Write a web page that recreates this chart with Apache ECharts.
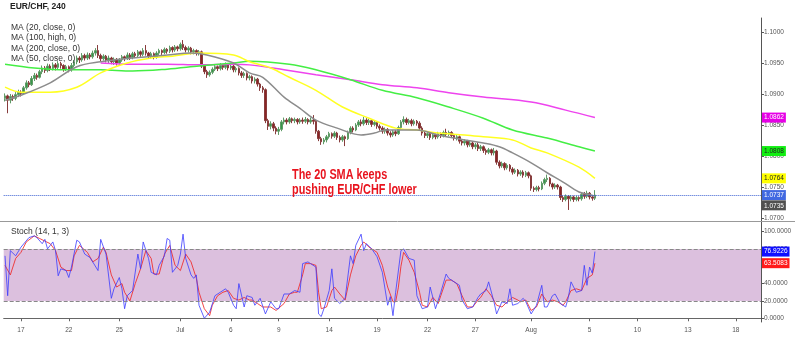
<!DOCTYPE html>
<html><head><meta charset="utf-8">
<script src="https://cdn.jsdelivr.net/npm/echarts@6/dist/echarts.min.js"></script>
<style>html,body{margin:0;padding:0;background:#fff}#c{width:800px;height:339px}</style>
</head><body><div id="c"></div>
<script>
// ---- data ----
const tickIndex = [6, 24, 43, 66, 85, 103, 122, 140, 159, 177, 198, 220, 238, 257, 275];
const tickLabels = ['17', '22', '25', 'Jul', '6', '9', '14', '19', '22', '27', 'Aug', '5', '10', '13', '18'];
const futureSlots = 62;
const priceTicks = [1.07, 1.075, 1.08, 1.085, 1.09, 1.095, 1.10];
const stochTicks = [0, 20, 40, 60, 80, 100];
// [open, close, low, high]
const ohlc = [
[1.0893,1.0897,1.0888,1.0901],[1.0897,1.0890,1.0869,1.0899],[1.0890,1.0896,1.0885,1.0900],[1.0896,1.0893,1.0889,1.0899],
[1.0893,1.0899,1.0890,1.0903],[1.0899,1.0903,1.0895,1.0907],[1.0903,1.0901,1.0896,1.0906],[1.0901,1.0910,1.0899,1.0913],
[1.0910,1.0918,1.0907,1.0922],[1.0918,1.0915,1.0911,1.0921],[1.0915,1.0925,1.0913,1.0929],[1.0925,1.0930,1.0921,1.0934],
[1.0930,1.0927,1.0923,1.0933],[1.0927,1.0936,1.0925,1.0939],[1.0936,1.0942,1.0932,1.0946],[1.0942,1.0938,1.0934,1.0945],
[1.0938,1.0945,1.0935,1.0949],[1.0945,1.0941,1.0937,1.0948],[1.0941,1.0947,1.0938,1.0951],[1.0947,1.0943,1.0938,1.0950],
[1.0943,1.0949,1.0940,1.0953],[1.0949,1.0946,1.0941,1.0952],[1.0946,1.0940,1.0936,1.0948],[1.0940,1.0944,1.0937,1.0947],
[1.0944,1.0939,1.0935,1.0946],[1.0939,1.0946,1.0936,1.0950],[1.0946,1.0952,1.0943,1.0955],[1.0952,1.0958,1.0948,1.0962],
[1.0958,1.0955,1.0950,1.0961],[1.0955,1.0962,1.0952,1.0966],[1.0962,1.0958,1.0954,1.0965],[1.0958,1.0963,1.0955,1.0967],
[1.0963,1.0960,1.0956,1.0966],[1.0960,1.0966,1.0957,1.0970],[1.0966,1.0970,1.0962,1.0974],[1.0970,1.0962,1.0958,1.0979],
[1.0962,1.0957,1.0953,1.0965],[1.0957,1.0961,1.0954,1.0964],[1.0961,1.0955,1.0951,1.0963],[1.0955,1.0958,1.0950,1.0962],
[1.0958,1.0952,1.0948,1.0960],[1.0952,1.0956,1.0947,1.0959],[1.0956,1.0950,1.0946,1.0958],[1.0950,1.0955,1.0947,1.0958],
[1.0955,1.0960,1.0952,1.0963],[1.0960,1.0957,1.0953,1.0962],[1.0957,1.0963,1.0955,1.0967],[1.0963,1.0959,1.0955,1.0966],
[1.0959,1.0965,1.0956,1.0968],[1.0965,1.0962,1.0958,1.0968],[1.0962,1.0968,1.0959,1.0971],[1.0968,1.0964,1.0960,1.0970],
[1.0964,1.0970,1.0961,1.0974],[1.0970,1.0966,1.0962,1.0979],[1.0966,1.0961,1.0957,1.0968],[1.0961,1.0965,1.0958,1.0968],
[1.0965,1.0960,1.0956,1.0967],[1.0960,1.0966,1.0957,1.0969],[1.0966,1.0970,1.0963,1.0973],[1.0970,1.0967,1.0963,1.0972],
[1.0967,1.0972,1.0964,1.0975],[1.0972,1.0969,1.0965,1.0974],[1.0969,1.0975,1.0966,1.0978],[1.0975,1.0971,1.0967,1.0977],
[1.0971,1.0976,1.0968,1.0979],[1.0976,1.0973,1.0969,1.0978],[1.0973,1.0980,1.0970,1.0983],[1.0980,1.0975,1.0971,1.0987],
[1.0975,1.0971,1.0967,1.0978],[1.0971,1.0974,1.0967,1.0977],[1.0974,1.0968,1.0964,1.0976],[1.0968,1.0970,1.0964,1.0973],
[1.0970,1.0966,1.0962,1.0972],[1.0966,1.0968,1.0962,1.0971],[1.0968,1.0945,1.0942,1.0970],[1.0945,1.0936,1.0932,1.0948],
[1.0936,1.0931,1.0926,1.0939],[1.0931,1.0935,1.0928,1.0938],[1.0935,1.0940,1.0932,1.0943],[1.0940,1.0944,1.0937,1.0947],
[1.0944,1.0941,1.0937,1.0946],[1.0941,1.0946,1.0938,1.0950],[1.0946,1.0943,1.0939,1.0948],[1.0943,1.0947,1.0940,1.0951],
[1.0947,1.0942,1.0938,1.0949],[1.0942,1.0945,1.0939,1.0948],[1.0945,1.0939,1.0935,1.0947],[1.0939,1.0941,1.0935,1.0944],
[1.0941,1.0934,1.0930,1.0943],[1.0934,1.0930,1.0926,1.0937],[1.0930,1.0933,1.0926,1.0936],[1.0933,1.0926,1.0922,1.0935],
[1.0926,1.0928,1.0922,1.0931],[1.0928,1.0921,1.0917,1.0930],[1.0921,1.0924,1.0917,1.0927],[1.0924,1.0916,1.0912,1.0926],
[1.0916,1.0910,1.0905,1.0918],[1.0910,1.0907,1.0902,1.0913],[1.0907,1.0857,1.0853,1.0909],[1.0857,1.0848,1.0842,1.0860],
[1.0848,1.0852,1.0843,1.0856],[1.0852,1.0845,1.0840,1.0855],[1.0845,1.0840,1.0835,1.0848],[1.0840,1.0843,1.0834,1.0847],
[1.0843,1.0855,1.0840,1.0858],[1.0855,1.0858,1.0851,1.0862],[1.0858,1.0855,1.0851,1.0861],[1.0855,1.0860,1.0852,1.0863],
[1.0860,1.0857,1.0853,1.0862],[1.0857,1.0859,1.0853,1.0862],[1.0859,1.0855,1.0851,1.0861],[1.0855,1.0858,1.0852,1.0861],
[1.0858,1.0856,1.0852,1.0862],[1.0856,1.0859,1.0853,1.0863],[1.0859,1.0855,1.0851,1.0861],[1.0855,1.0858,1.0852,1.0862],
[1.0858,1.0856,1.0851,1.0866],[1.0856,1.0840,1.0836,1.0858],[1.0840,1.0828,1.0824,1.0842],[1.0828,1.0823,1.0818,1.0831],
[1.0823,1.0826,1.0819,1.0829],[1.0826,1.0831,1.0822,1.0834],[1.0831,1.0836,1.0828,1.0839],[1.0836,1.0832,1.0828,1.0838],
[1.0832,1.0837,1.0829,1.0840],[1.0837,1.0830,1.0826,1.0839],[1.0830,1.0826,1.0822,1.0833],[1.0826,1.0831,1.0823,1.0834],
[1.0831,1.0828,1.0816,1.0833],[1.0828,1.0838,1.0826,1.0841],[1.0838,1.0845,1.0835,1.0848],[1.0845,1.0842,1.0838,1.0848],
[1.0842,1.0850,1.0840,1.0853],[1.0850,1.0855,1.0847,1.0858],[1.0855,1.0852,1.0848,1.0859],[1.0852,1.0858,1.0849,1.0863],
[1.0858,1.0854,1.0850,1.0861],[1.0854,1.0857,1.0850,1.0860],[1.0857,1.0851,1.0847,1.0859],[1.0851,1.0854,1.0848,1.0857],
[1.0854,1.0848,1.0844,1.0856],[1.0848,1.0845,1.0841,1.0851],[1.0845,1.0840,1.0836,1.0848],[1.0840,1.0843,1.0836,1.0846],
[1.0843,1.0837,1.0833,1.0845],[1.0837,1.0834,1.0830,1.0840],[1.0834,1.0839,1.0831,1.0842],[1.0839,1.0836,1.0832,1.0842],
[1.0836,1.0846,1.0834,1.0849],[1.0846,1.0855,1.0843,1.0858],[1.0855,1.0859,1.0851,1.0864],[1.0859,1.0854,1.0850,1.0862],
[1.0854,1.0857,1.0851,1.0860],[1.0857,1.0852,1.0848,1.0860],[1.0852,1.0856,1.0849,1.0859],[1.0856,1.0853,1.0849,1.0858],
[1.0853,1.0845,1.0841,1.0856],[1.0845,1.0837,1.0833,1.0848],[1.0837,1.0833,1.0829,1.0840],[1.0833,1.0836,1.0829,1.0839],
[1.0836,1.0830,1.0826,1.0838],[1.0830,1.0834,1.0827,1.0837],[1.0834,1.0831,1.0827,1.0836],[1.0831,1.0836,1.0828,1.0839],
[1.0836,1.0833,1.0829,1.0838],[1.0833,1.0838,1.0830,1.0841],[1.0838,1.0835,1.0831,1.0844],[1.0835,1.0838,1.0832,1.0841],
[1.0838,1.0833,1.0829,1.0840],[1.0833,1.0829,1.0825,1.0836],[1.0829,1.0831,1.0825,1.0834],[1.0831,1.0824,1.0820,1.0833],
[1.0824,1.0821,1.0817,1.0827],[1.0821,1.0824,1.0817,1.0827],[1.0824,1.0818,1.0814,1.0826],[1.0818,1.0821,1.0815,1.0825],
[1.0821,1.0815,1.0811,1.0823],[1.0815,1.0818,1.0811,1.0821],[1.0818,1.0812,1.0808,1.0822],[1.0812,1.0815,1.0808,1.0818],
[1.0815,1.0809,1.0805,1.0817],[1.0809,1.0806,1.0802,1.0812],[1.0806,1.0810,1.0803,1.0813],[1.0810,1.0805,1.0801,1.0812],
[1.0805,1.0808,1.0801,1.0813],[1.0808,1.0790,1.0786,1.0810],[1.0790,1.0784,1.0780,1.0793],[1.0784,1.0788,1.0781,1.0791],
[1.0788,1.0781,1.0777,1.0790],[1.0781,1.0785,1.0778,1.0788],[1.0785,1.0779,1.0775,1.0787],[1.0779,1.0774,1.0770,1.0782],
[1.0774,1.0777,1.0771,1.0780],[1.0777,1.0771,1.0767,1.0779],[1.0771,1.0774,1.0768,1.0777],[1.0774,1.0769,1.0765,1.0777],
[1.0769,1.0773,1.0766,1.0776],[1.0773,1.0768,1.0764,1.0775],[1.0768,1.0748,1.0744,1.0770],[1.0748,1.0746,1.0742,1.0751],
[1.0746,1.0749,1.0743,1.0752],[1.0749,1.0747,1.0743,1.0752],[1.0747,1.0756,1.0745,1.0759],[1.0756,1.0762,1.0753,1.0765],
[1.0762,1.0764,1.0758,1.0770],[1.0764,1.0755,1.0751,1.0766],[1.0755,1.0750,1.0746,1.0757],[1.0750,1.0753,1.0747,1.0756],
[1.0753,1.0750,1.0746,1.0755],[1.0750,1.0733,1.0729,1.0752],[1.0733,1.0730,1.0726,1.0736],[1.0730,1.0735,1.0727,1.0738],
[1.0735,1.0731,1.0713,1.0737],[1.0731,1.0734,1.0727,1.0737],[1.0734,1.0730,1.0726,1.0736],[1.0730,1.0733,1.0727,1.0736],
[1.0733,1.0731,1.0727,1.0735],[1.0731,1.0738,1.0728,1.0741],[1.0738,1.0735,1.0731,1.0742],[1.0735,1.0740,1.0732,1.0744],
[1.0740,1.0734,1.0730,1.0742],[1.0734,1.0732,1.0728,1.0737],[1.0732,1.0737,1.0729,1.0745]
];
const ma20 = [[0,1.0890],[6,1.0898],[17,1.0918],[27,1.0944],[36,1.0952],[48,1.0958],[61,1.0963],[70,1.0966],[76,1.0963],[86,1.0950],[92,1.0934],[97,1.0927],[105,1.0895],[111,1.0877],[117,1.0858],[125,1.0845],[134,1.0834],[139,1.0837],[143,1.0842],[148,1.0842],[155,1.0842],[163,1.0834],[173,1.0826],[180,1.0821],[186,1.0815],[191,1.0805],[198,1.0789],[204,1.0773],[210,1.0758],[216,1.0742],[220,1.0738],[222,1.0735]];
const ma50 = [[0,1.0911],[6,1.0903],[17,1.0903],[27,1.0911],[36,1.0934],[46,1.0950],[55,1.0958],[63,1.0961],[73,1.0966],[86,1.0963],[92,1.0952],[100,1.0942],[107,1.0927],[117,1.0906],[127,1.0879],[137,1.0861],[147,1.0845],[155,1.0842],[163,1.0837],[173,1.0834],[180,1.0831],[191,1.0826],[198,1.0813],[204,1.0805],[216,1.0782],[222,1.0764]];
const ma100 = [[0,1.0948],[11,1.0942],[23,1.0939],[36,1.0939],[48,1.0937],[61,1.0940],[73,1.0945],[86,1.0950],[92,1.0953],[107,1.0948],[117,1.0939],[130,1.0923],[142,1.0906],[155,1.0894],[167,1.0879],[180,1.0861],[191,1.0842],[204,1.0829],[216,1.0815],[222,1.0808]];
const ma200 = [[36,1.0950],[48,1.0948],[61,1.0948],[73,1.0947],[86,1.0948],[92,1.0947],[105,1.0939],[117,1.0931],[130,1.0923],[142,1.0915],[155,1.0910],[167,1.0902],[180,1.0895],[198,1.0887],[211,1.0874],[222,1.0862]];
const stochK = [[0,72],[1,26],[2,78],[4,72],[6,82],[9,93],[11,95],[12,93],[14,86],[15,91],[16,80],[18,88],[19,78],[20,49],[21,57],[23,55],[24,47],[25,59],[27,90],[28,88],[30,74],[32,70],[35,55],[36,91],[38,74],[40,23],[41,34],[43,47],[44,34],[45,11],[46,26],[48,32],[50,74],[51,57],[52,88],[54,69],[55,53],[57,50],[58,61],[60,72],[61,92],[62,90],[63,53],[65,61],[66,74],[67,97],[68,69],[70,50],[71,46],[72,50],[73,15],[75,0],[77,7],[79,26],[81,30],[83,34],[84,30],[86,15],[87,11],[88,40],[90,13],[91,26],[93,24],[94,15],[96,23],[98,5],[100,19],[102,11],[103,11],[105,28],[107,28],[109,32],[111,30],[112,63],[114,65],[115,63],[117,59],[118,5],[119,2],[120,11],[122,32],[123,57],[124,23],[126,17],[128,23],[130,72],[131,63],[132,84],[134,97],[135,78],[136,86],[138,80],[140,71],[142,53],[144,15],[145,25],[146,3],[147,30],[149,78],[150,80],[152,69],[154,67],[155,26],[157,11],[159,13],[160,36],[161,24],[162,11],[164,30],[166,51],[167,46],[169,42],[171,38],[172,21],[174,11],[176,13],[178,24],[179,28],[181,32],[182,42],[184,19],[185,5],[187,19],[189,17],[190,34],[191,15],[193,17],[195,23],[196,19],[198,5],[200,15],[202,38],[203,13],[204,13],[206,26],[207,28],[209,17],[211,13],[212,24],[213,42],[215,30],[217,32],[218,61],[219,38],[220,59],[221,52],[222,76.9226]];
const stochD = [[0,61],[2,50],[4,69],[6,76],[8,88],[11,95],[13,92],[15,89],[17,86],[19,78],[21,59],[23,55],[25,55],[26,72],[28,84],[31,76],[33,65],[35,69],[37,82],[38,76],[40,50],[42,36],[44,40],[45,30],[47,20],[49,40],[51,57],[53,78],[55,69],[56,51],[58,51],[60,74],[62,84],[64,61],[66,55],[68,74],[70,65],[72,46],[73,30],[75,11],[77,3],[78,15],[80,26],[82,30],[84,32],[86,23],[88,21],[90,24],[92,21],[93,21],[95,17],[97,13],[100,13],[102,9],[105,17],[107,28],[109,30],[110,30],[112,50],[113,63],[115,63],[117,61],[118,30],[119,11],[121,13],[123,32],[124,36],[126,28],[128,21],[130,50],[132,72],[134,84],[135,88],[137,82],[140,76],[142,61],[144,36],[146,19],[147,19],[148,35],[149,60],[150,76],[152,67],[154,53],[156,30],[157,15],[159,13],[161,24],[163,17],[164,26],[166,44],[168,44],[170,40],[172,26],[174,13],[176,13],[178,21],[179,24],[181,34],[183,26],[185,15],[187,13],[189,19],[191,24],[193,21],[194,19],[196,21],[198,9],[200,13],[202,28],[204,19],[206,21],[208,19],[210,15],[211,19],[213,32],[215,34],[217,32],[219,46],[221,50],[222,63.5083]];
const lastClose = 1.0737;
const lastMA20 = 1.0735, lastMA50 = 1.0764, lastMA100 = 1.0808, lastMA200 = 1.0862;
const lastK = 76.9226, lastD = 63.5083;
const bandHigh = 80, bandLow = 20;

// ---- chart ----
const categories = ohlc.map((d, i) => String(i));
for (let k = 0; k < futureSlots; k++) categories.push(String(ohlc.length + k));

const FONT = '"Liberation Sans", Arial, sans-serif';
const axisTxt = { fontSize: 6.5, color: '#555', fontFamily: FONT };

function tagLabel(value, bg, fg) {
  return { show: true, position: 'end', distance: 1, formatter: value.toFixed(4), backgroundColor: bg, color: fg,
    fontSize: 6.5, fontFamily: FONT, padding: [2, 2, 1, 2] };
}
function endTag(value, bg, fg, extra) {
  return Object.assign({
    symbol: ['none', 'none'], silent: true, animation: false, precision: 6,
    data: [{ yAxis: value }],
    lineStyle: { color: 'transparent', width: 0 },
    label: tagLabel(value, bg, fg)
  }, extra || {});
}

function maSeries(name, data, color, last, tagBg, tagFg) {
  return {
    name, type: 'line', xAxisIndex: 0, yAxisIndex: 0, data, showSymbol: false, smooth: 0.35,
    lineStyle: { color, width: 1.5 }, z: 3, animation: false,
    markLine: endTag(last, tagBg, tagFg)
  };
}

const chart = echarts.init(document.getElementById('c'), null, { renderer: 'canvas' });
chart.setOption({
  animation: false,
  grid: [
    { left: 3.7, right: 39, top: 18, height: 203 },
    { left: 3.7, right: 39, top: 222, height: 100 }
  ],
  xAxis: [
    { type: 'category', gridIndex: 0, data: categories, boundaryGap: true,
      axisLine: { show: false }, axisTick: { show: false }, axisLabel: { show: false }, splitLine: { show: false } },
    { type: 'category', gridIndex: 1, data: categories, boundaryGap: true,
      axisLine: { show: true, lineStyle: { color: '#666' } },
      axisTick: { show: true, alignWithLabel: true, length: 3, interval: (i) => tickIndex.includes(i), lineStyle: { color: '#666' } },
      axisLabel: Object.assign({ interval: (i) => tickIndex.includes(i), margin: 5,
        formatter: (v, i) => tickLabels[tickIndex.indexOf(i)] }, axisTxt),
      splitLine: { show: false } }
  ],
  yAxis: [
    { type: 'value', gridIndex: 0, position: 'right', min: 1.06952, max: 1.10226,
      splitLine: { show: false },
      axisLine: { show: true, lineStyle: { color: '#555' } },
      axisTick: { show: true, length: 3, customValues: priceTicks, lineStyle: { color: '#555' } },
      axisLabel: Object.assign({ customValues: priceTicks, margin: 3, formatter: (v) => v.toFixed(4) }, axisTxt) },
    { type: 'value', gridIndex: 1, position: 'right', min: -4.3, max: 111,
      splitLine: { show: false },
      axisLine: { show: true, lineStyle: { color: '#555' } },
      axisTick: { show: true, length: 3, customValues: stochTicks, lineStyle: { color: '#555' } },
      axisLabel: Object.assign({ customValues: stochTicks, margin: 3, formatter: (v) => v.toFixed(4) }, axisTxt) }
  ],
  series: [
    { name: 'EUR/CHF', type: 'candlestick', xAxisIndex: 0, yAxisIndex: 0, data: ohlc, barWidth: 2,
      itemStyle: { color: '#36984a', color0: '#8a2424', borderColor: '#5f9a66', borderColor0: '#873c3c', borderWidth: 1 },
      markLine: endTag(lastClose, '#4169e1', '#fff', { lineStyle: { type: 'dotted', color: '#3a5fd0', width: 1 } }) },
    maSeries('MA200', ma200, '#ee44ee', lastMA200, '#e600e6', '#fff'),
    maSeries('MA100', ma100, '#44ee44', lastMA100, '#11ee11', '#222'),
    maSeries('MA50', ma50, '#ffff22', lastMA50, '#ffff00', '#222'),
    Object.assign(maSeries('MA20', ma20, '#8c8c8c', lastMA20, '#505050', '#fff'),
      { markLine: endTag(lastMA20, '#505050', '#fff', {
          label: { show: true, position: 'end', distance: 1, formatter: '{e|}\n{t|' + lastMA20.toFixed(4) + '}',
            fontSize: 6.5, fontFamily: FONT,
            rich: { e: { height: 18, fontSize: 6.5 },
                    t: { backgroundColor: '#505050', color: '#fff', fontSize: 6.5, fontFamily: FONT, padding: [2, 2, 1, 2] } } } }) }),
    { name: '%D', type: 'line', xAxisIndex: 1, yAxisIndex: 1, data: stochD, showSymbol: false,
      lineStyle: { color: 'rgba(240,40,40,0.85)', width: 1 }, z: 3,
      markArea: { silent: true, itemStyle: { color: '#dcc0de' }, data: [[{ yAxis: bandLow }, { yAxis: bandHigh }]] },
      markLine: { symbol: ['none', 'none'], silent: true, animation: false, precision: 6,
        data: [
          { yAxis: bandHigh, lineStyle: { type: 'dashed', color: '#888', width: 1 }, label: { show: false } },
          { yAxis: bandLow, lineStyle: { type: 'dashed', color: '#888', width: 1 }, label: { show: false } },
          { yAxis: lastD, lineStyle: { color: 'transparent', width: 0 }, label: tagLabel(lastD, '#ff1a1a', '#fff') }
        ] } },
    { name: '%K', type: 'line', xAxisIndex: 1, yAxisIndex: 1, data: stochK, showSymbol: false,
      lineStyle: { color: 'rgba(60,60,255,0.8)', width: 1 }, z: 4,
      markLine: endTag(lastK, '#1010ff', '#fff') }
  ],
  graphic: [
    { type: 'line', z: 10, shape: { x1: 0, y1: 221.5, x2: 795, y2: 221.5 }, style: { stroke: '#999', lineWidth: 1 } },
    { type: 'text', z: 10, left: 10, top: 2.5, style: { text: 'EUR/CHF, 240', font: 'bold 8.5px ' + FONT, fill: '#222' } },
    { type: 'text', z: 10, left: 11, top: 23, style: { text: 'MA (20, close, 0)', font: '8.5px ' + FONT, fill: '#333' } },
    { type: 'text', z: 10, left: 11, top: 33.5, style: { text: 'MA (100, high, 0)', font: '8.5px ' + FONT, fill: '#333' } },
    { type: 'text', z: 10, left: 11, top: 44, style: { text: 'MA (200, close, 0)', font: '8.5px ' + FONT, fill: '#333' } },
    { type: 'text', z: 10, left: 11, top: 54.5, style: { text: 'MA (50, close, 0)', font: '8.5px ' + FONT, fill: '#333' } },
    { type: 'text', z: 10, left: 11, top: 227.5, style: { text: 'Stoch (14, 1, 3)', font: '8.5px ' + FONT, fill: '#333' } },
    { type: 'text', z: 10, left: 292, top: 167, scaleX: 0.775, style: { text: 'The 20 SMA keeps\npushing EUR/CHF lower',
      font: 'bold 14px ' + FONT, lineHeight: 15.7, fill: '#e8141e' } }
  ]
});
</script></body></html>
